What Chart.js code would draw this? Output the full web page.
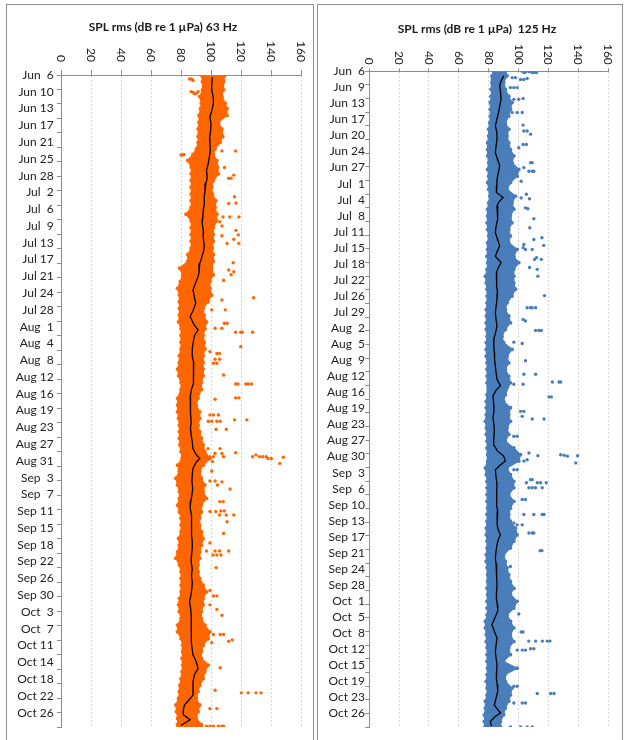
<!DOCTYPE html>
<html>
<head>
<meta charset="utf-8">
<script src="https://cdn.jsdelivr.net/npm/chart.js@4.4.1/dist/chart.umd.min.js"></script>
<style>
  html, body { margin: 0; padding: 0; background: #fff; }
  body { width: 624px; height: 740px; position: relative; overflow: hidden; }
  .frame { position: absolute; border: 1px solid #8c8c8c; border-bottom: none; }
  #frame63 { left: 6px; top: 4px; width: 306px; height: 760px; }
  #frame125 { left: 317px; top: 4px; width: 304px; height: 760px; }
  canvas { position: absolute; top: 0; }
  #spl63 { left: 0; }
  #spl125 { left: 312px; }
</style>
</head>
<body>
<div class="frame" id="frame63"></div>
<div class="frame" id="frame125"></div>
<canvas id="spl63" width="312" height="740"></canvas>
<canvas id="spl125" width="312" height="740"></canvas>
<script>
// SPL axis ticks (dB re 1 µPa)
const xTicks = [0, 20, 40, 60, 80, 100, 120, 140, 160];

// Date labels down the time axis (evenly spaced from Jun 6 to Oct 26)
const labels63 = ['Jun  6','Jun 10','Jun 13','Jun 17','Jun 21','Jun 25','Jun 28','Jul  2','Jul  6','Jul  9','Jul 13','Jul 17','Jul 21','Jul 24','Jul 28','Aug  1','Aug  4','Aug  8','Aug 12','Aug 16','Aug 19','Aug 23','Aug 27','Aug 31','Sep  3','Sep  7','Sep 11','Sep 15','Sep 18','Sep 22','Sep 26','Sep 30','Oct  3','Oct  7','Oct 11','Oct 14','Oct 18','Oct 22','Oct 26'];
const labels125 = ['Jun  6','Jun  9','Jun 13','Jun 17','Jun 20','Jun 24','Jun 27','Jul  1','Jul  4','Jul  8','Jul 11','Jul 15','Jul 18','Jul 22','Jul 26','Jul 29','Aug  2','Aug  5','Aug  9','Aug 12','Aug 16','Aug 19','Aug 23','Aug 27','Aug 30','Sep  3','Sep  6','Sep 10','Sep 13','Sep 17','Sep 21','Sep 24','Sep 28','Oct  1','Oct  5','Oct  8','Oct 12','Oct 15','Oct 19','Oct 23','Oct 26'];

// Dense band of samples: [day after Jun 6, lowest dB, highest dB]
const band63 = [
  [0,93.6,109.5],[1.5,94.3,108.4],[3.3,94.3,108.4],[4.8,92.5,107.3],[6.3,93.6,109.5],[7.5,93,110.7],
  [9,92,110.7],[10.5,92,105],[12,91.4,107.3],[13.7,91.4,107.8],[15,91.4,106.1],[16.5,90.2,102.7],
  [17.7,88,101.6],[19,84.5,103.9],[20.5,86.8,104.5],[22,86.8,105],[23.5,86.8,101.6],[25,86.8,100.5],
  [26.5,86.8,101],[28,86.8,103.3],[29.5,86.8,102.7],[31,83.4,103.9],[32.5,86.8,103.9],[34,86.8,101.6],
  [35.5,86.8,101.6],[37,86.8,101.6],[38.5,86.8,101],[40,84.5,101.6],[41.5,84.5,101.6],[43,79,100.5],
  [44.5,81.1,101.6],[46,79.5,99.3],[47.5,77.7,99.3],[49,78.9,100.5],[50.5,78.9,98],[52,78.9,94.8],
  [53.5,78.9,95.5],[55,78.4,97],[56.5,80,96],[58,80,94.8],[59.5,80,95.5],[61,80,96],
  [62.5,78.9,94.8],[64,78.9,94.8],[65.5,77.7,94.8],[67,78.4,94.8],[68.5,80,93.6],[70,80,93.6],
  [72,77.7,91.4],[73.5,77.7,90.2],[75,77.7,92.5],[76.5,78.4,92.5],[78,78.9,91.4],[79.4,78.9,92.5],
  [80.9,78.9,93.6],[82.4,79.3,94.8],[83.9,80,95.9],[85.4,80.7,99.3],[86.9,77.7,94.8],[88.3,78.9,92.5],
  [89.8,76.6,93.6],[91.3,77.7,95.9],[92.8,78.9,94.8],[94.3,78.9,97],[95.8,77.7,93.6],[97.3,78.9,93.6],
  [98.7,80,92.5],[100.2,80,92.5],[101.7,80,93.6],[103.2,78.4,94.8],[104.7,78.9,93.6],[106.2,77.7,92.5],
  [107.6,76.6,92.5],[109.1,78.9,91.4],[110.6,80,91.4],[112.1,80,92.5],[113.6,80,94.8],[115.1,80,97],
  [116.6,78.9,94.8],[118,78.4,94.8],[119.5,78.9,93.6],[121,80,93.6],[122.5,77.7,95.9],[124,77.7,99.3],
  [125.5,80,98.2],[127,81.1,94.8],[128.4,81.1,93.6],[129.9,80.7,93.6],[131.4,81.1,98.2],[132.9,80.7,95.9],
  [134.4,80,94.8],[135.9,79.3,92.5],[137.3,78.9,91.4],[138.8,78.4,90.2],[140.3,76.6,92.5],[141.8,77,91.4],
  [143.3,77.7,90.2],[144.6,77.7,93.6],[145.2,78,93]
];
const band125 = [
  [0,83.4,91.2],[1,82.2,92.4],[2.5,82.2,90.1],[4,81.6,91.2],[5.5,81.6,93.5],[6.9,81.1,95.7],
  [8.4,81.1,94.6],[9.9,81.1,93.5],[11.4,80.7,91.2],[12.8,80,93.5],[14.3,80,92.4],[15.8,79.3,93.5],
  [17.3,79.3,94.6],[18.7,79.3,96.9],[20.2,80,95.7],[21.7,79.3,100.2],[23.2,80,99.1],[24.6,79.3,94.6],
  [26.1,80,92.4],[27.6,80.7,98],[29.1,80,95.7],[30.5,79.3,96.9],[32,79.3,94.6],[33.5,78.9,95.7],
  [35,79.3,93.5],[36.4,80,94.6],[37.9,79.3,93.5],[39.4,79.3,99.1],[40.9,78.9,96.9],[42.3,79.3,100.2],
  [43.8,78.9,96.9],[45.3,77.8,96.9],[46.8,78.4,96.9],[48.2,78.9,98],[49.7,78.9,95.7],[51.2,78.9,92.4],
  [52.7,78.4,91.2],[54.1,78.4,93.5],[55.6,78.4,94.6],[57.1,78.4,91.2],[58.6,78.9,89],[60,78.4,90.1],
  [61.5,78.4,95.7],[63,78.4,92.4],[64.5,78.9,93.5],[65.9,78.9,91.2],[67.4,78.9,93.5],[68.9,78.9,94.6],
  [71.5,78.9,91.2],[73,78.4,90.1],[74.4,78.4,94.6],[75.9,78.4,93.5],[77.4,77.8,94.6],[78.9,78.4,92.4],
  [80.3,78.4,93.5],[81.8,78.9,91.2],[83.3,78.9,96.9],[84.8,79.3,101.3],[86.2,79.3,100.2],[87.7,77.8,92.4],
  [89.2,78.4,94.6],[90.7,78.9,96.9],[92.1,78.9,96.9],[93.6,78.9,93.5],[95.1,78.9,96.9],[96.6,79.3,94.6],
  [98,78.9,93.5],[99.5,78.9,94.6],[101,78.4,98],[102.5,78.4,99.1],[103.9,78.9,96.9],[105.4,78.9,94.6],
  [106.9,78.4,90.1],[108.4,78.4,91.2],[109.8,78.9,92.4],[111.3,79.3,93.5],[112.8,79.3,94.6],[114.3,78.9,96.9],
  [115.7,79.3,94.6],[117.2,78.9,99.1],[118.7,78.9,96.9],[120.2,78.9,92.4],[121.6,77.8,94.6],[123.1,77.8,96.9],
  [124.6,78.4,94.6],[126.1,78.4,96.9],[127.5,78.9,93.5],[129,78.9,94.6],[130.5,78.9,90.1],[132,79.3,99.1],
  [133.4,78.9,91.2],[134.9,78.4,91.2],[136.4,78.9,95.7],[137.9,78.9,94.6],[139.3,77.8,93.5],[140.8,77.8,91.2],
  [142.3,77.1,90.1],[143.8,77.1,87.9],[145,77.5,88]
];

// Running mean, [day, dB]
const mean63 = [[0.5,101],[2,100.5],[3.3,100.5],[5,101.5],[6.3,101.6],[8,100.5],[9.3,99.3],[11,100],[12.3,99.8],[14,99],[15.2,99.3],[17,99.5],[18.2,98.9],[20,98],[21.2,97],[23,97.5],[24.1,96.6],[26,96],[27.1,95.5],[29,95.5],[30.1,94.8],[32,94.5],[33,94.1],[35,95],[36,94.8],[38,95.5],[39,95.2],[41,93.5],[42,92.5],[44,92],[44.9,91.4],[46.5,89.5],[47.9,88],[49.5,89],[50.9,89.8],[52.5,88],[53.8,86.1],[55.5,88.5],[56.8,91.4],[58,89],[59.8,88],[61,87.5],[62.7,87.5],[64,88.5],[65.7,88],[67,88.5],[68.7,88.4],[70,87],[71.6,86.1],[73,86.5],[74.2,86.1],[75.7,86.5],[77.2,86.8],[78.7,86.3],[80.2,86.8],[81.7,87.5],[83.2,88],[84.5,90],[85.4,92.5],[86.3,90],[87.6,88],[89,87.5],[90.6,87.3],[92,87.8],[93.5,87.3],[95,86.5],[96.5,86.1],[98,87],[99.5,87.3],[101,87],[102.4,86.8],[104,87.5],[105.4,87.5],[107,87],[108.4,86.8],[110,87.5],[111.4,87],[113,87.5],[114.3,87.3],[116,86.5],[117.3,85.7],[119,86.5],[120.3,86.8],[122,87],[123.2,86.8],[125,87],[126.2,86.8],[128,87.5],[129.2,88],[130.5,90],[132.2,91.4],[133.5,89],[135.1,88],[136.5,88],[138.1,88],[139.3,85],[140.3,82.3],[141.5,81.5],[142.5,81.6],[143.6,86.1],[144.8,80]];
const mean125 = [[1,90.1],[2,88.5],[3.2,87.4],[4.7,88],[6.2,88.3],[7.6,87.5],[9.1,86.7],[10.6,85.5],[12.1,84.5],[13.5,85.5],[15,85.6],[16.5,85],[18,84.5],[19.5,86],[20.9,87.4],[22.4,86.5],[23.9,85.6],[25.4,85.5],[26.8,85.2],[27.9,89.7],[28.8,87],[29.8,85.6],[31.2,86],[32.7,86.1],[34.2,85],[35.7,84.5],[37.2,86],[38.6,87.4],[40,85.5],[40.9,84.5],[42.3,88.3],[43.4,86.5],[44.5,85.2],[46,85.5],[47.5,85.2],[49,86],[50.4,85.6],[52,85],[53.4,84.5],[55,85],[56.3,85.6],[58,84.5],[59.3,83.4],[61,83.5],[62.2,83.8],[63.7,84],[65.2,84.5],[66.7,85],[68.1,85.6],[69.5,87.9],[70.5,85],[71.8,82.9],[73.7,83.4],[75.2,83.5],[76.7,82.9],[78,83.5],[79.6,83.8],[81,83.5],[82.6,83.4],[84,86],[85.1,90.1],[86.2,91.2],[87,88],[88.1,84.5],[89.8,85],[91.4,85.6],[93,85.4],[94.4,85.2],[96,85.5],[97.3,86.1],[98.8,85.8],[100.3,85.6],[101.5,86.5],[102.5,87.9],[103.5,86.5],[104.7,85.6],[106,85],[107.6,84.5],[109,85],[110.6,85.2],[112,85.5],[113.5,85.6],[115,85.3],[116.5,85.2],[118,85.8],[119.4,86.1],[121,84],[122.4,82.2],[124,84],[125.3,85.6],[126.8,85],[128.3,84.5],[129.8,85],[131.2,85.6],[132.8,85.4],[134.2,85.2],[135.6,85.7],[137.1,86.1],[138.6,85],[140.1,83.8],[141.1,86],[141.9,87.9],[142.8,84],[143.8,81.1],[144.8,82]];

// Individual samples outside the dense band, [day, dB]
const spikes63 = [[0.9,85.7],[0.9,87],[1.2,88],[3.7,86.8],[3.9,88],[4.2,89],[4.1,90.2],[3.7,91.4],[16.9,116.4],[16.9,107.3],[17.8,80],[17.8,81.5],[17.7,82],[20.6,109],[23,111.8],[23,113.4],[22.3,115.2],[27.1,115.7],[28.5,116.6],[28.6,111.8],[31.6,108],[31.6,112.5],[31.6,118.6],[32.7,106],[33.6,107.3],[34.6,116.6],[35.6,118.2],[35.8,107.3],[36.6,115.2],[37.5,118.6],[37.5,110.7],[41.8,114.8],[43.4,111.8],[43.8,115.2],[44.5,113.4],[45.7,108.4],[47.9,98.2],[49.6,128.4],[50.1,107.3],[52.3,109.5],[52.3,100.5],[55.3,110.7],[55.3,108.9],[56.4,102.7],[56.4,107.3],[57.3,116.4],[57.3,119.8],[57.3,120.9],[57.3,127.7],[60.5,119.8],[61.6,99.3],[62,103.9],[62,105.7],[63.3,102.7],[63.3,105.7],[64.2,101.6],[64.2,103.9],[66.8,108.4],[68.8,116.4],[68.8,118],[68.8,123.2],[68.8,124.8],[68.8,127],[71.9,116.4],[71.9,118.6],[72.2,102.7],[75.7,99.3],[75.7,101.6],[75.7,105],[76.8,115.7],[76.8,123.9],[77.1,98.2],[77.1,100.5],[77.1,103.9],[77.1,106.1],[78.9,103.4],[78.9,110.2],[83.2,98],[83.2,106],[84.1,116.4],[84.3,102.7],[84.3,107.3],[84.6,130],[85,99.3],[85,101.6],[85,108.4],[85,127.7],[85,132.3],[85,134.5],[85,136.8],[85.1,148.2],[85.4,138],[85.4,140.2],[86.1,101],[86.5,145.9],[88.2,100.5],[90.4,99.3],[90.4,102.7],[90.6,107.3],[91.3,104.3],[92.2,112.7],[95,105.9],[95,108.2],[97.1,106.6],[97.1,108.9],[97.2,99.3],[97.2,103.2],[98,105.7],[98,110.2],[98,115.2],[99.5,110.7],[102.1,108.4],[104.2,99.3],[106,97],[106,102.7],[106,105.7],[106,111.8],[106.9,101.4],[106.9,103.9],[106.9,106.6],[109.7,103.4],[114.8,99.3],[116,101.6],[116,103.9],[118,99.3],[119,103.9],[120.3,107.3],[124.6,101.6],[124.6,106.1],[124.6,108.4],[125.8,114.1],[126.1,111.8],[126.4,100.5],[132,106.1],[137,102.7],[137.6,120.2],[137.6,124.8],[137.6,130],[137.6,133.4],[141.1,99.3],[141.1,103.9],[145,93.6],[145,97],[145,99.3],[145,101.6],[145,105],[145,107.3],[145,108.4]];
const spikes125 = [[0,102.5],[0.1,105],[0.1,107.2],[0.2,110.5],[0.3,109.2],[0.3,112.1],[0.3,104],[1.4,95.8],[1.4,98],[1.6,105.8],[1.8,101.4],[1.8,103.6],[3.6,94.6],[3.6,96.9],[3.6,99.1],[6,103.1],[6.2,96.9],[6.2,100.2],[9.1,95.7],[9.1,99.1],[9.1,102.5],[11.9,103.1],[13.2,103.6],[13.2,105.8],[13.9,108.1],[16.2,103.1],[16.2,105.3],[16.9,100.2],[20.2,108.1],[20.2,109.2],[21.3,103.6],[22.1,107],[22.1,109.2],[22.1,110.3],[24.3,101.8],[27.2,105.3],[28,101.8],[28.2,107.4],[30.2,104.7],[30.4,106.3],[32.6,110.3],[34.6,107.6],[36.8,115.7],[37.2,110.3],[38.3,103.6],[38.5,116.9],[39,103.1],[39.4,109.2],[39.4,104.7],[41.2,112.1],[41.6,110.8],[41.6,115.3],[43.4,107.4],[43.8,112.6],[45.3,113],[49.6,117.4],[52.3,105.8],[52.3,108.1],[52.3,109.2],[52.3,111.5],[54.9,103.1],[55.2,104.7],[57.3,111.5],[57.3,113.7],[57.3,115.3],[59.9,96.9],[60.2,102.5],[64,104.7],[67,103.6],[67,111.5],[68.7,122.7],[68.7,127.2],[68.7,128.3],[69.2,96.9],[69.2,103.1],[72,120.4],[72,122],[75.2,101.4],[75.2,103.6],[76.3,102.5],[76.9,109.2],[76.9,117.1],[80.7,96.9],[80.7,99.1],[84.4,107],[84.8,128.3],[84.9,130.6],[85,113],[85,139.6],[85.1,132.8],[85.9,105.8],[86.2,103.6],[86.6,138.4],[88.1,96.9],[88.1,99.1],[90.3,108.1],[90.3,109.2],[91,112.6],[91,114.8],[91,118.6],[91,105.3],[92.1,107],[92.1,109.2],[92.1,111.4],[92.1,115.9],[94.7,102.5],[94.7,104.7],[98,103.6],[98,110.3],[98,115.9],[98,117.1],[99.9,96.9],[100.3,99.1],[100.3,102.5],[102.1,107],[102.1,109.2],[102.1,110.3],[106,114.6],[106,115.7],[109.5,94.6],[114.4,95.7],[114.4,96.9],[117.7,96.9],[120,100.2],[124,101.8],[124,103.1],[126,106.9],[126,111.5],[126,116],[126,119.3],[126,121.1],[127.7,108.1],[127.7,110.3],[128,99.1],[128,102.5],[128,104.7],[136,96.9],[136,99.1],[137.6,112.6],[137.6,121.6],[137.6,123.8],[139.7,96.9],[139.7,102.5],[139.7,104.7],[145,94.6],[145,101.4],[145,105.8],[145,109.2]];

const LABEL_FONT = 'Lato, "Open Sans", "DejaVu Sans", sans-serif';
Chart.defaults.font.family = LABEL_FONT;

// Top-axis tick labels, turned a quarter clockwise and ending just above the tick marks
const topTickLabels = {
  id: 'topTickLabels',
  afterDraw(chart, args, opts) {
    const scale = chart.scales.x;
    const ctx = chart.ctx;
    ctx.save();
    ctx.font = opts.font;
    ctx.fillStyle = opts.color;
    ctx.textAlign = 'right';
    ctx.textBaseline = 'middle';
    xTicks.forEach(v => {
      ctx.save();
      ctx.translate(scale.getPixelForValue(v), scale.bottom - opts.gap);
      ctx.rotate(Math.PI / 2);
      ctx.fillText(String(v), 0, 0);
      ctx.restore();
    });
    ctx.restore();
  }
};

// Centre the title over a chosen horizontal span of the canvas
const titleSpan = {
  id: 'titleSpan',
  afterLayout(chart, args, opts) {
    const t = chart.titleBlock;
    if (t) { t.left = opts.left; t.right = opts.right; t.width = opts.right - opts.left; }
  }
};

const LABEL_SPAN = 142; // Jun 6 .. Oct 26

function buildPanel(canvasId, p) {
  const labelPos = p.labels.map((_, i) => i * LABEL_SPAN / (p.labels.length - 1));
  const tickPos = Array.from({length: p.tickCount + 1}, (_, i) => i * p.dayMax / p.tickCount);
  const toPoints = rows => rows.map(([d, v]) => ({x: v, y: d}));
  const edge = k => p.band.map(row => ({x: row[k], y: row[0]}));
  const dot = { pointBackgroundColor: p.color, pointBorderWidth: 0 };

  new Chart(document.getElementById(canvasId), {
    type: 'line',
    data: {
      datasets: [
        { data: toPoints(p.mean), borderColor: '#000', borderWidth: 1.3, pointRadius: 0, fill: false, tension: 0 },
        { data: toPoints(p.spikes).sort((a, b) => a.y - b.y), showLine: false, pointRadius: 1.7, ...dot },
        { data: edge(1), borderColor: p.color, borderWidth: 1.2, pointRadius: 1.9, ...dot, fill: false },
        { data: edge(2), borderColor: p.color, borderWidth: 1.2, pointRadius: 1.9, ...dot, fill: 2, backgroundColor: p.color }
      ]
    },
    options: {
      responsive: false,
      animation: false,
      devicePixelRatio: 1,
      events: [],
      indexAxis: 'y',
      layout: { padding: { left: 0, right: p.padRight, top: 0, bottom: 13 } },
      plugins: {
        legend: { display: false },
        tooltip: { enabled: false },
        title: {
          display: true, text: p.title, color: '#1a1a1a',
          font: { family: LABEL_FONT, size: 12, weight: 'bold' },
          padding: { top: p.titleTop, bottom: 4 }
        },
        titleSpan: p.titleSpan,
        topTickLabels: { font: '12px ' + LABEL_FONT, color: '#222', gap: p.labelGap }
      },
      scales: {
        x: {
          type: 'linear', position: 'top', min: 0, max: 160,
          ticks: { stepSize: 20, display: false },
          afterFit: s => { s.height = p.xAxisHeight; },
          grid: {
            color: c => (c.tick && c.tick.value === 0) ? 'rgba(0,0,0,0)' : '#d6d6d6',
            tickColor: '#8c8c8c', tickLength: p.xTickLen
          },
          border: { display: true, color: '#8c8c8c', dash: [2, 2] }
        },
        y: {
          type: 'linear', position: 'left', reverse: true, min: 0, max: p.dayMax, weight: 0,
          afterBuildTicks: s => { s.ticks = tickPos.map(v => ({value: v})); },
          afterFit: s => { s.width = 4.3; },
          ticks: { display: false, autoSkip: false },
          grid: { drawOnChartArea: false, drawTicks: true, tickLength: 4, color: '#8c8c8c' },
          border: { display: true, color: '#8c8c8c' }
        },
        dates: {
          type: 'linear', position: 'left', reverse: true, min: 0, max: p.dayMax, weight: 1,
          afterBuildTicks: s => { s.ticks = labelPos.map(v => ({value: v})); },
          afterFit: s => { s.width = p.labelAxisWidth; },
          ticks: {
            autoSkip: false, padding: p.labelPad, color: '#222',
            font: { family: LABEL_FONT, size: 12 },
            callback: (v, i) => p.labels[i]
          },
          grid: { display: false, drawTicks: false },
          border: { display: false }
        }
      }
    },
    plugins: [topTickLabels, titleSpan]
  });
}

buildPanel('spl63', {
  title: 'SPL rms (dB re 1 µPa) 63 Hz',
  color: '#FF6600',
  labels: labels63, band: band63, mean: mean63, spikes: spikes63,
  dayMax: 145.2, tickCount: 45,
  padRight: 11, titleTop: 20, xAxisHeight: 36.6, titleSpan: { left: 25, right: 301 },
  labelAxisWidth: 56.7, labelPad: 3, xTickLen: 5, labelGap: 13
});

buildPanel('spl125', {
  title: 'SPL rms (dB re 1 µPa)  125 Hz',
  color: '#4A7EBB',
  labels: labels125, band: band125, mean: mean125, spikes: spikes125,
  dayMax: 145.0, tickCount: 48,
  padRight: 16, titleTop: 21.8, xAxisHeight: 31.1, titleSpan: { left: 34, right: 296 },
  labelAxisWidth: 53, labelPad: 0, xTickLen: 3, labelGap: 6.5
});
</script>
</body>
</html>
